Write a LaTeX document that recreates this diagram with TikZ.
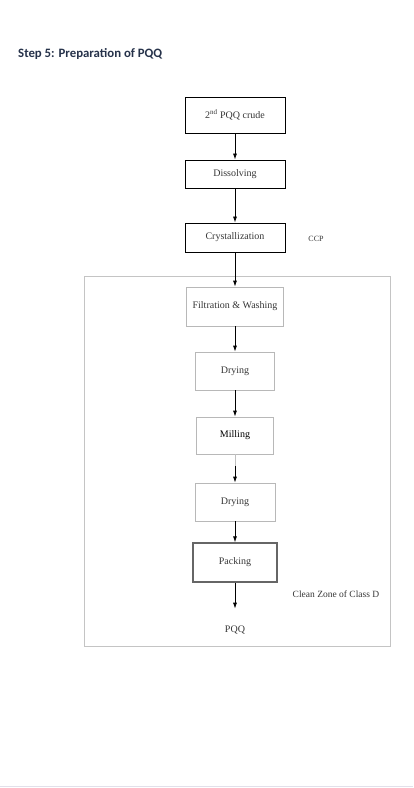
\documentclass[tikz,border=0pt]{standalone}
\usepackage{fontspec}
\setmainfont{Liberation Serif}
\newfontfamily\headfont{Carlito}
\usepackage{xcolor}
\usetikzlibrary{arrows.meta}

\definecolor{headblue}{HTML}{26324A}
\definecolor{txtgray}{HTML}{363636}
\definecolor{zonegray}{HTML}{C4C4C4}
\definecolor{pagerule}{HTML}{E2E0EA}

\begin{document}
\begin{tikzpicture}[x=1pt, y=-1pt,
    stepbox/.style={draw, line width=0.9pt, inner sep=0pt, text=txtgray,
        font=\fontsize{10}{12}\selectfont},
    softbox/.style={stepbox, draw=black!28, line width=0.7pt},
    flow/.style={-{Latex[length=6pt,width=4pt]}, line width=0.8pt},
    note/.style={text=txtgray, inner sep=0pt}]
    \useasboundingbox (0,0) rectangle (413,788);

    % heading
    \node[anchor=west, text=headblue, inner sep=0pt,
        font=\headfont\bfseries\fontsize{12.8}{15}\selectfont] (title) at (18,54)
        {Step 5: Preparation of PQQ};

    % clean zone
    \draw[zonegray, line width=0.8pt] (84,276) rectangle (390,646);

    % process steps
    \node[stepbox, minimum width=100, minimum height=36] (crude) at (235,115)
        {2\textsuperscript{nd} PQQ crude};
    \node[stepbox, minimum width=100, minimum height=28] (dissolve) at (235,174)
        {Dissolving};
    \node[stepbox, minimum width=100, minimum height=29] (cryst) at (235,237.5)
        {Crystallization};
    \node[softbox, minimum width=97, minimum height=39] (filter) at (235,306.5)
        {Filtration \& Washing};
    \node[softbox, minimum width=79, minimum height=38] (dryA) at (235,371)
        {Drying};
    \node[softbox, minimum width=77, minimum height=37] (mill) at (235,435.5)
        {\textcolor{black}{Milling}};
    \node[softbox, minimum width=80, minimum height=38] (dryB) at (235,502)
        {Drying};
    \node[stepbox, draw=black!60, line width=1.2pt, minimum width=84, minimum height=39] (pack) at (235,562.5)
        {Packing};

    % labels
    \node[note, font=\fontsize{8}{10}\selectfont] (ccp) at (316,239) {CCP};
    \node[note, font=\fontsize{9.5}{11}\selectfont] (zone) at (336,594) {Clean Zone of Class D};
    \node[note, font=\fontsize{10}{12}\selectfont] (pqq) at (235,630) {PQQ};

    % arrows
    \draw[flow] (crude) -- (dissolve);
    \draw[flow] (dissolve) -- (cryst);
    \draw[flow] (cryst) -- (filter);
    \draw[flow] (filter) -- (dryA);
    \draw[flow] (dryA) -- (mill);
    \draw[flow] (mill) -- (dryB);
    \draw[white!75!black, line width=1pt] (mill.south) -- ++(0,12);
    \draw[flow] (dryB) -- (pack);
    \draw[flow, shorten >=17pt] (pack) -- (pqq);

    % page rule
    \draw[pagerule, line width=1.5pt] (0,786.5) -- (413,786.5);
\end{tikzpicture}
\end{document}
